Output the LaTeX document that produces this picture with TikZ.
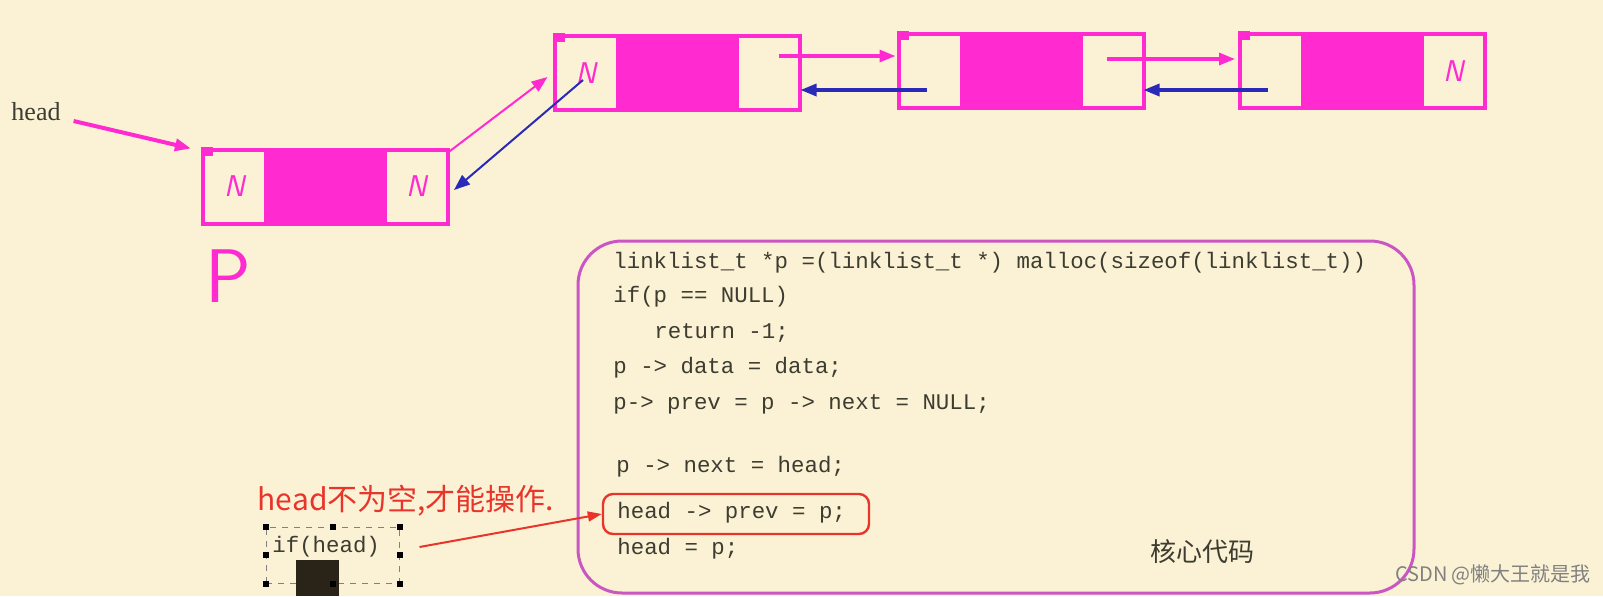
\documentclass[tikz,border=0pt]{standalone}
\usepackage{xcolor}
\definecolor{bgc}{HTML}{FBF2D5}
\definecolor{accent1}{HTML}{FF2BD0}
\definecolor{accent2}{HTML}{2A2AB8}
\definecolor{hlred}{HTML}{E8342A}
\definecolor{frame}{HTML}{CC55C4}
\definecolor{ink}{HTML}{3C3C30}
\definecolor{dark}{HTML}{2A2418}
\usepackage{fontspec}
\setmainfont{Liberation Serif}
\setmonofont{Liberation Mono}
\newfontfamily\cjk{Noto Sans CJK SC}
\usepackage{tikz}
\usetikzlibrary{positioning,arrows.meta,calc}

\begin{document}
\begin{tikzpicture}[x=0.5pt, y=-0.5pt,
    cell/.style={draw=accent1, line width=2pt, outer sep=0pt, inner sep=0pt,
                 minimum height=37pt},
    ptr/.style={cell, minimum width=31.5pt, text=accent1,
                font=\sffamily\itshape\fontsize{15}{15}\selectfont},
    dat/.style={cell, fill=accent1, minimum width=59.5pt},
    nxt/.style={draw=accent1, line width=1.6pt, -{Triangle[length=8pt, width=6pt]}},
    prv/.style={draw=accent2, line width=1.6pt, -{Triangle[length=8pt, width=6pt]}},
    code/.style={anchor=west, inner sep=0pt, text=ink,
                 font=\ttfamily\fontsize{11.2}{13}\selectfont}]
  \fill[bgc] (0,0) rectangle (1603,596);
  \useasboundingbox (0,0) rectangle (1603,596);

  % new node p
  \node[ptr] (pprev) at (234.5,186.5) {N};
  \node[dat, right=0pt of pprev] (pdata) {};
  \node[ptr, right=0pt of pdata] (pnext) {N};
  \node[text=accent1, font=\sffamily\fontsize{38}{38}\selectfont] (plabel) at (228,276) {P};

  % old list
  \node[ptr] (n1prev) at (586,73) {N};
  \node[dat, right=0pt of n1prev] (n1data) {};
  \node[ptr, right=0pt of n1data] (n1next) {};
  \node[ptr] (n2prev) at (930,70.5) {};
  \node[dat, right=0pt of n2prev] (n2data) {};
  \node[ptr, right=0pt of n2data] (n2next) {};
  \node[ptr] (n3prev) at (1271.5,71) {};
  \node[dat, right=0pt of n3prev] (n3data) {};
  \node[ptr, right=0pt of n3data] (n3next) {N};
  \foreach \n in {pprev, n1prev, n2prev, n3prev}
    \fill[accent1] (\n.north west) ++(-2,-3) rectangle ++(12,9);

  % links
  \node[text=ink, font=\fontsize{13}{13}\selectfont] (head) at (36,112) {head};
  \draw[nxt, line width=2pt] ($(head.east)+(6,9)$) -- ($(pprev.north west)+(-12,-1)$);
  \draw[nxt, line width=1pt] ($(pnext.north east)+(0,3)$) -- ($(n1prev.west)+(-7,4)$);
  \draw[prv, line width=1pt] ($(n1prev.center)+(-3,7)$) -- ($(pnext.east)+(6,3.5)$);
  \draw[nxt] ($(n1next.center)+(10.5,-17)$) -- ($(n2prev.west)+(-3,-14.5)$);
  \draw[prv] ($(n2prev.center)+(-3,19.5)$) -- ($(n1next.east)+(1,17)$);
  \draw[nxt] ($(n2next.center)+(-5,-11.5)$) -- ($(n3prev.west)+(-5,-12)$);
  \draw[prv] ($(n3prev.center)+(-3.5,19)$) -- ($(n2next.east)+(0,19.5)$);

  % core code
  \node[draw=frame, line width=1.5pt, rounded corners=22pt,
        minimum width=418pt, minimum height=176pt] (core) at (996,417) {};
  \node[code] (l1) at (613,263) {linklist\_t *p =(linklist\_t *) malloc(sizeof(linklist\_t))};
  \node[code] (l2) at (613,297) {if(p == NULL)};
  \node[code] (l3) at (654,333) {return -1;};
  \node[code] (l4) at (613,368) {p -> data = data;};
  \node[code] (l5) at (613,404) {p-> prev = p -> next = NULL;};
  \node[code] (l6) at (616,467) {p -> next = head;};
  \node[code] (l7) at (617,513) {head -> prev = p;};
  \node[code] (l8) at (617,549) {head = p;};
  \node[draw=hlred, line width=1.2pt, rounded corners=5pt,
        minimum width=133pt, minimum height=20pt] (hl) at (736,514) {};
  \node[text=ink, font=\cjk\fontsize{13}{13}\selectfont] (corelabel) at (1202,552) {核心代码};

  % note on if(head)
  \node[text=hlred, font=\cjk\fontsize{15}{15}\selectfont] (note) at (406,501) {head不为空,才能操作.};
  \node[draw=gray, dashed, line width=0.5pt, minimum width=66.5pt,
        minimum height=28pt] (ifbox) at (332.5,555) {};
  \node[code] (iftext) at (272,547) {if(head)};
  \fill[dark] (296,560) rectangle (339,596);
  \foreach \a in {north west, north, north east, east, south east, south, south west, west}
    \fill[black] (ifbox.\a) ++(-3,-3) rectangle ++(6,6);
  \draw[draw=hlred, line width=1pt, -{Triangle[length=7pt, width=5pt]}]
    ($(ifbox.east)+(20,-8)$) -- (hl.west);

  \node[text=gray, font=\cjk\fontsize{10}{10}\selectfont] (mark) at (1493,575) {CSDN @懒大王就是我};
\end{tikzpicture}
\end{document}
